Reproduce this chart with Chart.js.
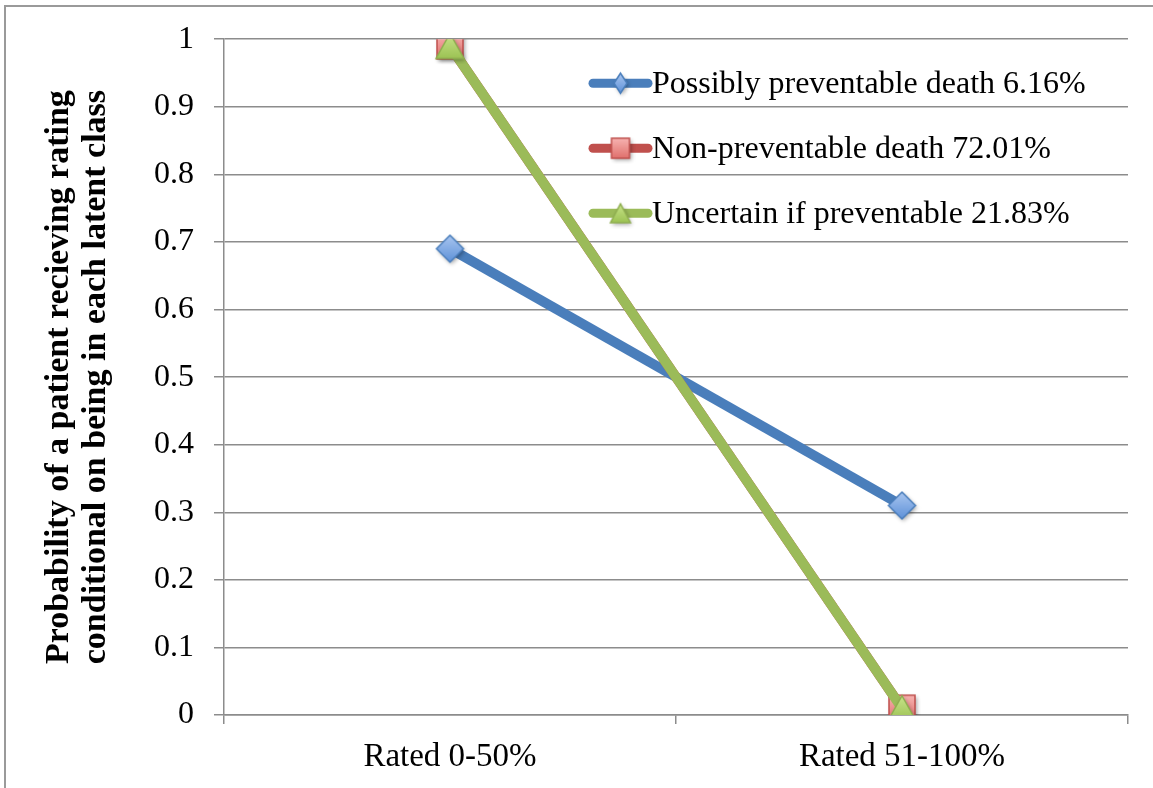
<!DOCTYPE html>
<html>
<head>
<meta charset="utf-8">
<title>Latent class rating probabilities</title>
<script src="https://cdn.jsdelivr.net/npm/chart.js@4/dist/chart.umd.min.js"></script>
<style>
  html, body { margin: 0; padding: 0; background: #ffffff; }
  #wrap { width: 1153px; height: 788px; position: relative; }
</style>
</head>
<body>
<div id="wrap"><canvas id="chart" width="1153" height="788"></canvas></div>
<script>
// Categories on the x axis
const categories = ['Rated 0-50%', 'Rated 51-100%'];

// Series labels (latent class with its share)
const seriesLabels = [
  'Possibly preventable death 6.16%',
  'Non-preventable death 72.01%',
  'Uncertain if preventable 21.83%'
];

// Probability of each rating within each latent class
const possiblyPreventable = [0.69, 0.31];
const nonPreventable = [0.99, 0.01];
const uncertainPreventable = [0.99, 0.01];

// Y axis range and step
const yMin = 0;
const yMax = 1;
const yStep = 0.1;

const axisTitle = [
  'Probability of a patient recieving rating',
  'conditional on being in each latent class'
];

const SERIF = "'Liberation Serif', 'Times New Roman', serif";
const GRID = '#8c8c8c';

// Build a marker bitmap with a soft shadow and gradient fill
function makeMarker(kind, w, h, top, bottom, stroke) {
  const pad = 6;
  const c = document.createElement('canvas');
  c.width = w + pad * 2;
  c.height = h + pad * 2;
  const ctx = c.getContext('2d');
  const cx = c.width / 2, cy = c.height / 2;
  const path = () => {
    ctx.beginPath();
    if (kind === 'diamond') {
      ctx.moveTo(cx, cy - h / 2);
      ctx.lineTo(cx + w / 2, cy);
      ctx.lineTo(cx, cy + h / 2);
      ctx.lineTo(cx - w / 2, cy);
    } else if (kind === 'square') {
      ctx.rect(cx - w / 2, cy - h / 2, w, h);
    } else {
      ctx.moveTo(cx, cy - h / 2);
      ctx.lineTo(cx + w / 2, cy + h / 2);
      ctx.lineTo(cx - w / 2, cy + h / 2);
    }
    ctx.closePath();
  };
  ctx.save();
  ctx.shadowColor = 'rgba(0,0,0,0.35)';
  ctx.shadowBlur = 4;
  ctx.shadowOffsetX = 1.5;
  ctx.shadowOffsetY = 2;
  path();
  ctx.fillStyle = stroke;
  ctx.fill();
  ctx.restore();
  const g = ctx.createLinearGradient(0, cy - h / 2, 0, cy + h / 2);
  g.addColorStop(0, top);
  g.addColorStop(1, bottom);
  path();
  ctx.fillStyle = g;
  ctx.fill();
  ctx.lineWidth = 1.5;
  ctx.strokeStyle = stroke;
  ctx.stroke();
  return c;
}

const markers = [
  makeMarker('diamond', 27, 27, '#a9c6f0', '#5e91d8', '#4a7ebb'),
  makeMarker('square', 26, 26, '#f7b3b1', '#e0706c', '#c0504d'),
  makeMarker('triangle', 28, 25, '#c8e48a', '#9cc253', '#8fae50')
];
const legendMarkers = [
  makeMarker('diamond', 13, 20, '#a9c6f0', '#5e91d8', '#4a7ebb'),
  makeMarker('square', 18, 20, '#f7b3b1', '#e0706c', '#c0504d'),
  makeMarker('triangle', 20, 19, '#c8e48a', '#9cc253', '#8fae50')
];

const seriesValues = [possiblyPreventable, nonPreventable, uncertainPreventable];
const seriesColors = ['#4a7ebb', '#c0504d', '#9bbb59'];

const datasets = seriesValues.map((vals, i) => ({
  label: seriesLabels[i],
  data: vals,
  borderColor: seriesColors[i],
  backgroundColor: seriesColors[i],
  borderWidth: 10,
  pointStyle: markers[i],
  pointRadius: 14,
  pointHoverRadius: 14,
  tension: 0,
  order: seriesValues.length - i
}));

// Outer frame (top and left edges visible)
const framePlugin = {
  id: 'frame',
  beforeDraw(chart) {
    const ctx = chart.ctx;
    ctx.save();
    ctx.fillStyle = '#ffffff';
    ctx.fillRect(0, 0, chart.width, chart.height);
    ctx.strokeStyle = '#9a9a9a';
    ctx.lineWidth = 2;
    ctx.beginPath();
    ctx.moveTo(5, chart.height + 2);
    ctx.lineTo(5, 6);
    ctx.lineTo(chart.width + 2, 6);
    ctx.stroke();
    ctx.restore();
  }
};

// Legend drawn inside the plot area, top right
const insideLegend = {
  id: 'insideLegend',
  afterDatasetsDraw(chart) {
    const ctx = chart.ctx;
    const area = chart.chartArea;
    const x0 = area.left + 369;
    const lineLen = 55;
    const y0 = area.top + 44;
    const gap = 65;
    ctx.save();
    chart.data.datasets.forEach((ds, i) => {
      const y = y0 + gap * i;
      ctx.strokeStyle = ds.borderColor;
      ctx.lineWidth = 9;
      ctx.lineCap = 'round';
      ctx.beginPath();
      ctx.moveTo(x0, y);
      ctx.lineTo(x0 + lineLen, y);
      ctx.stroke();
      const m = legendMarkers[i];
      ctx.drawImage(m, x0 + lineLen / 2 - m.width / 2, y - m.height / 2);
      ctx.fillStyle = '#000000';
      ctx.font = '32px ' + SERIF;
      ctx.textBaseline = 'middle';
      ctx.textAlign = 'left';
      ctx.fillText(ds.label, x0 + lineLen + 4, y + 1);
    });
    ctx.restore();
  }
};

new Chart(document.getElementById('chart'), {
  type: 'line',
  data: { labels: categories, datasets },
  options: {
    responsive: false,
    animation: false,
    events: [],
    layout: { padding: { top: 38, right: 25, left: 0, bottom: 0 } },
    plugins: {
      legend: { display: false },
      tooltip: { enabled: false }
    },
    scales: {
      x: {
        offset: true,
        grid: {
          offset: true,
          drawOnChartArea: false,
          drawTicks: true,
          tickLength: 9,
          color: GRID,
          lineWidth: 1.5
        },
        border: { color: GRID, width: 1.5 },
        ticks: {
          color: '#000000',
          font: { family: SERIF, size: 33 },
          padding: 14
        },
        afterFit(scale) { scale.height = 73; }
      },
      y: {
        min: yMin,
        max: yMax,
        ticks: {
          stepSize: yStep,
          color: '#000000',
          font: { family: SERIF, size: 32 },
          padding: 20,
          callback: (v) => String(Number(v.toFixed(1)))
        },
        grid: {
          color: GRID,
          lineWidth: 1.5,
          tickLength: 10
        },
        border: { color: GRID, width: 1.5 },
        title: {
          display: true,
          text: axisTitle,
          color: '#000000',
          font: { family: SERIF, size: 34, weight: 'bold', lineHeight: 1.08 },
          padding: { top: 41, bottom: 0 }
        },
        afterFit(scale) { scale.width = 224; }
      }
    }
  },
  plugins: [framePlugin, insideLegend]
});
</script>
</body>
</html>
